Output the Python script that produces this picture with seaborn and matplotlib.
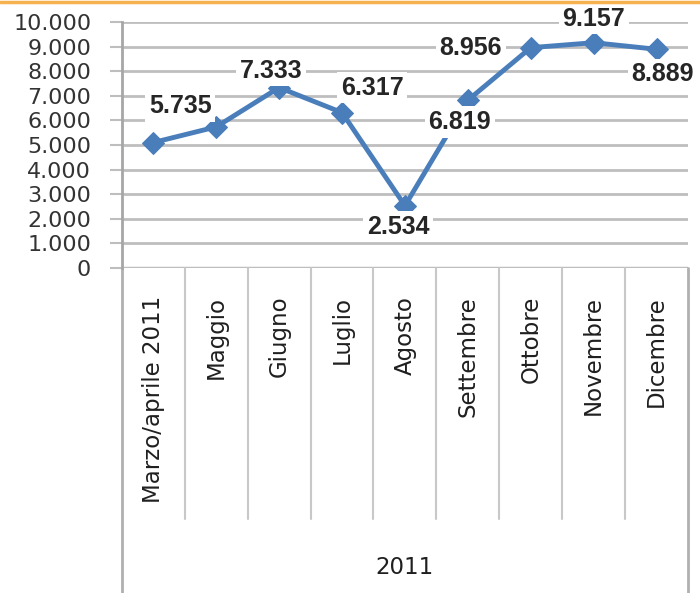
import matplotlib
matplotlib.use("Agg")
import matplotlib.pyplot as plt
import matplotlib.lines as mlines
import seaborn as sns
import pandas as pd
from matplotlib.ticker import FuncFormatter, MultipleLocator

# Data
months = ["Marzo/aprile 2011", "Maggio", "Giugno", "Luglio", "Agosto",
          "Settembre", "Ottobre", "Novembre", "Dicembre"]
values = [5100, 5735, 7333, 6317, 2534, 6819, 8956, 9157, 8889]
labels = [None, "5.735", "7.333", "6.317", "2.534", "6.819", "8.956", "9.157", "8.889"]
group_label = "2011"

# label offsets (pixels) relative to points
offsets = [None, (-36, 21), (-8, 17), (30, 25), (-7, -21), (-8, -22), (-60, 0), (0, 24), (6, -25)]

sns.set_style("white")
plt.rcParams['font.family'] = ['DejaVu Sans']

fig = plt.figure(figsize=(7.0, 5.93), dpi=100)
ax = fig.add_axes([0.174, 0.548, 0.809, 0.415])

df = pd.DataFrame({"month": months, "value": values})
df["pos"] = range(len(months))
sns.lineplot(data=df, x="pos", y="value", ax=ax, color="#4A7EBB", linewidth=3.5,
             marker="D", markersize=11, markeredgecolor="#4A7EBB", zorder=5)

ax.set_xlim(-0.5, len(months) - 0.5)
ax.set_ylim(0, 10000)
ax.yaxis.set_major_locator(MultipleLocator(1000))
ax.yaxis.set_major_formatter(FuncFormatter(lambda v, p: f"{int(v):,}".replace(",", ".")))
ax.grid(axis="y", color="#BEBEBE", linewidth=2.0)
ax.grid(axis="x", visible=False)
ax.set_axisbelow(True)
for s in ["top", "right", "bottom"]:
    ax.spines[s].set_visible(False)
ax.spines["left"].set_color("#A6A6A6")
ax.spines["left"].set_linewidth(2.0)
ax.tick_params(axis="y", length=9, width=1.5, color="#BEBEBE", labelsize=16,
               labelcolor="#333333", pad=13, left=True)
ax.set_xticks(range(len(months)))
ax.set_xticklabels(months, rotation=90, fontsize=16.5, color="#1f1f1f")
ax.tick_params(axis="x", length=0, pad=20)
ax.set_xlabel("")
ax.set_ylabel("")

# zero line
ax.axhline(0, color="#BEBEBE", linewidth=2.5, zorder=1)

tr = ax.get_xaxis_transform()
# category separators
for i in range(len(months) - 1):
    ax.add_line(mlines.Line2D([i + 0.5, i + 0.5], [0, -1.02], transform=tr,
                              color="#C8C8C8", linewidth=1.5, clip_on=False))
# outer borders of category area
for xb in (-0.5, len(months) - 0.5):
    ax.add_line(mlines.Line2D([xb, xb], [0, -1.35], transform=tr,
                              color="#B0B0B0", linewidth=2.0, clip_on=False))
ax.text((len(months) - 1) / 2, -1.215, group_label, transform=tr, ha="center",
        va="center", fontsize=16.5, color="#1f1f1f")

# data labels
for i, (v, lab, off) in enumerate(zip(values, labels, offsets)):
    if lab is None:
        continue
    ax.annotate(lab, xy=(i, v), xytext=off, textcoords="offset pixels",
                ha="center", va="center", fontsize=18, fontweight="bold",
                family=["Liberation Sans", "DejaVu Sans"], color="#262626",
                bbox=dict(boxstyle="square,pad=0.15", fc="white", ec="none"),
                zorder=6, annotation_clip=False)

# orange top border
fig.add_artist(mlines.Line2D([0, 1], [0.997, 0.997], transform=fig.transFigure,
                             color="#F5B24E", linewidth=2.5))

fig.savefig("out.png", dpi=100, facecolor="white")
